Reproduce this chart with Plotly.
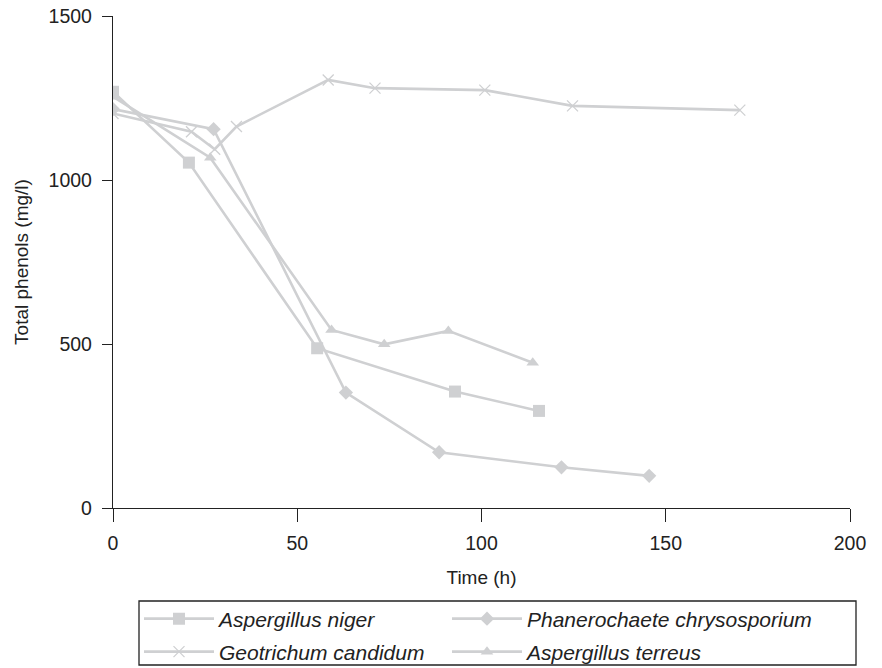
import plotly.graph_objects as go

GRAY = "#cfd0d2"
INK = "#222222"
FONT = "Liberation Sans, Arial, Helvetica, sans-serif"

niger_t = [0, 20.6, 55.4, 92.8, 115.6]
niger_v = [1269, 1053, 487, 355, 296]

phan_t = [0, 27.3, 63.2, 88.5, 121.7, 145.5]
phan_v = [1216, 1155, 352, 170, 124, 98]

geo_t = [0, 21.3, 27.6, 33.5, 58.4, 71.1, 100.9, 124.7, 170.1]
geo_v = [1203, 1147, 1094, 1163, 1305, 1280, 1274, 1226, 1213]

terr_t = [0, 26.4, 59.3, 73.6, 91.0, 113.9]
terr_v = [1254, 1068, 543, 499, 540, 443]

x_ticks = [0, 50, 100, 150, 200]
y_ticks = [0, 500, 1000, 1500]

W, H = 882, 668
AX_L, AX_R, AX_T, AX_B = 113, 850, 16, 508

def cx(px):
    return px / W

def cy(py):
    return 1 - py / H

def px2paper_x(px):
    return (px - AX_L) / (AX_R - AX_L)

def py2paper_y(py):
    return (AX_B - py) / (AX_B - AX_T)

fig = go.Figure()

def add(name, t, v, symbol, size, legend, lw=0):
    fig.add_trace(go.Scatter(
        x=t, y=v, mode="lines+markers", name="<i>%s</i>" % name,
        legend=legend,
        line=dict(color=GRAY, width=2.6),
        marker=dict(symbol=symbol, size=size, color=GRAY,
                    line=dict(color=GRAY, width=lw)),
    ))

add("Aspergillus niger", niger_t, niger_v, "square", 12, "legend")
add("Phanerochaete chrysosporium", phan_t, phan_v, "diamond", 11, "legend2")
add("Geotrichum candidum", geo_t, geo_v, "x-thin", 11, "legend3", 1.3)
add("Aspergillus terreus", terr_t, terr_v, "triangle-up", 11, "legend4")

axis_common = dict(
    showgrid=False, zeroline=False, showline=True, linecolor=INK,
    linewidth=1.3, ticks="outside", tickcolor=INK, tickwidth=1.3,
    tickfont=dict(size=19.5, color=INK, family=FONT),
    title_font=dict(size=19, color=INK, family=FONT),
)

fig.update_xaxes(range=[0, 200], tickvals=x_ticks, title_text="Time (h)",
                 ticklen=13, ticklabelstandoff=4,
                 title_standoff=18, **axis_common)
fig.update_yaxes(range=[0, 1500], tickvals=y_ticks, title_text="Total phenols (mg/l)",
                 ticklen=10, ticklabelstandoff=6,
                 title_standoff=14, **axis_common)

leg_common = dict(
    orientation="h", xref="container", yref="container",
    xanchor="left", yanchor="middle",
    borderwidth=0, bgcolor="rgba(0,0,0,0)",
    font=dict(size=21, color=INK, family=FONT),
    itemwidth=70,
)

COL1, COL2 = 139, 447
ROW1, ROW2 = 619, 652

fig.update_layout(
    width=W, height=H,
    margin=dict(l=AX_L, r=W - AX_R, t=AX_T, b=H - AX_B, autoexpand=False),
    plot_bgcolor="white", paper_bgcolor="white",
    font=dict(family=FONT, color=INK),
    showlegend=True,
    legend=dict(x=cx(COL1), y=cy(ROW1), **leg_common),
    legend2=dict(x=cx(COL2), y=cy(ROW1), **leg_common),
    legend3=dict(x=cx(COL1), y=cy(ROW2), **leg_common),
    legend4=dict(x=cx(COL2), y=cy(ROW2), **leg_common),
)

# legend frame
fig.add_shape(type="rect", xref="paper", yref="paper",
              x0=px2paper_x(139), x1=px2paper_x(856),
              y0=py2paper_y(601), y1=py2paper_y(665),
              line=dict(color=INK, width=1.3), fillcolor="rgba(0,0,0,0)",
              layer="below")

fig.write_html("out.html", config={"displayModeBar": False},
               post_script="document.body.style.margin='0px';")
